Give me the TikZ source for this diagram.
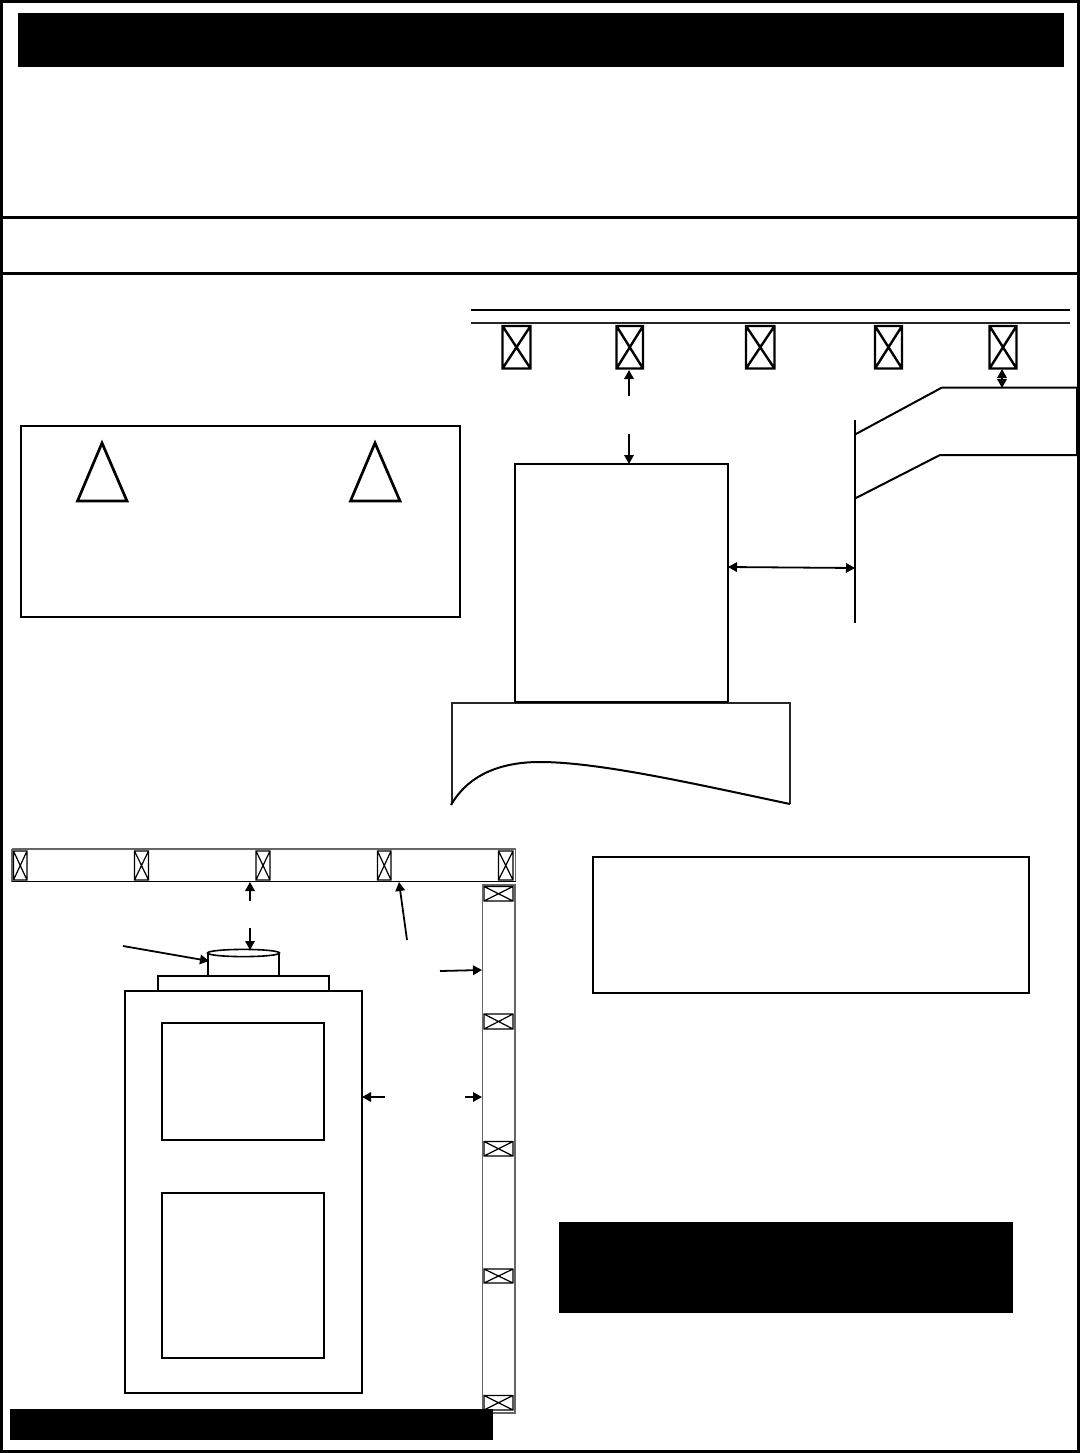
\documentclass[tikz,border=0pt]{standalone}
\usetikzlibrary{arrows.meta}
\tikzset{
  x=1pt,y=-1pt,
  line/.style={draw=black,line width=2pt},
  thick frame/.style={draw=black,line width=3.2pt},
  solidbar/.style={fill=black,draw=none},
  dim/.style={draw=black,line width=1.8pt,-{Triangle[length=9pt,width=9.5pt]}},
  dimboth/.style={draw=black,line width=1.8pt,{Triangle[length=9pt,width=9.5pt]}-{Triangle[length=9pt,width=9.5pt]}},
  joist/.style={draw=black,line width=2.4pt},
  joistthin/.style={draw=black,line width=1.2pt},
  warn/.style={draw=black,line width=2.7pt,line join=miter},
}
\newcommand{\xbox}[5]{% style, x1,y1,x2,y2
  \draw[#1] (#2,#3) rectangle (#4,#5) (#2,#3) -- (#4,#5) (#4,#3) -- (#2,#5);}
\begin{document}
\begin{tikzpicture}
\useasboundingbox (0,0) rectangle (1080,1453);
\fill[white] (0,0) rectangle (1080,1453);
% frame
\draw[thick frame] (1.5,1.5) rectangle (1078.4,1451.5);
\draw[thick frame] (0,217.5) -- (1080,217.5);
\draw[thick frame] (0,273.5) -- (1080,273.5);
\fill[solidbar] (18,13) rectangle (1064,67);
% upper joists
\draw[line] (471,309.5) -- (1070,309.5);
\draw[draw=black!85,line width=2pt] (471,322.5) -- (1070,322.5);
\xbox{joist}{502.5}{326}{530.5}{368.5}
\xbox{joist}{616.5}{326}{643}{368.5}
\xbox{joist}{746}{326}{774.5}{368.5}
\xbox{joist}{875}{326}{902}{368.5}
\xbox{joist}{989.5}{326}{1016.5}{368.5}
% warning box
\draw[line] (21,426) rectangle (460,617);
\draw[warn] (102,443) -- (77.5,501) -- (127,501) -- cycle;
\draw[warn] (375,443) -- (350.5,501) -- (400,501) -- cycle;
% front view
\draw[line] (515,464) rectangle (728,701.5);
\draw[draw=black!85,line width=2pt] (451.5,804) -- (451.5,702.5) -- (790,702.5) -- (790,804);
\draw[line] (515,701.5) -- (728,701.5);
\draw[line] (451,805) .. controls (470,772) and (505,762) .. (540,762)
  .. controls (600,762) and (700,785) .. (790,804);
% duct
\draw[line] (855,420) -- (855,622.5);
\draw[line] (855,434.5) -- (942,387.5) -- (1077,387.5);
\draw[line] (855,498.5) -- (940,455) -- (1077,455);
\draw[line] (1076.5,387.5) -- (1076.5,455);
% front view dimensions
\coordinate (a1) at (629,396); \coordinate (a2) at (629,370);
\coordinate (b1) at (629,434); \coordinate (b2) at (629,464);
\coordinate (c1) at (1002,369); \coordinate (c2) at (1002,388);
\coordinate (d1) at (728,567); \coordinate (d2) at (855,568);
\draw[dim] (a1) -- (a2);
\draw[dim] (b1) -- (b2);
\draw[dimboth] (c1) -- (c2);
\draw[dimboth] (d1) -- (d2);
% side ceiling joists
\draw[draw=black!60,line width=1.2pt] (12,849) -- (515.5,849) (12,849) -- (12,881.5) (515.5,849) -- (515.5,881.5);
\draw[draw=black,line width=1.6pt] (12,881.5) -- (515.5,881.5);
\xbox{joistthin}{13.5}{851}{27}{880}
\xbox{joistthin}{134.5}{851}{148.5}{880}
\xbox{joistthin}{256}{851}{270}{880}
\xbox{joistthin}{377.5}{851}{391}{880}
\xbox{joistthin}{498.5}{851}{513}{880}
% right wall studs
\draw[draw=black!60,line width=1.5pt] (482.5,885) rectangle (515,1413);
\xbox{joistthin}{484}{886.5}{513}{901}
\xbox{joistthin}{484}{1014}{513}{1029}
\xbox{joistthin}{484}{1141.5}{513}{1156}
\xbox{joistthin}{484}{1269}{513}{1283}
\xbox{joistthin}{484}{1395.5}{513}{1410}
% furnace plan
\draw[line] (125,991) rectangle (362,1393);
\draw[line] (162,1023) rectangle (324,1140);
\draw[line] (162,1193) rectangle (324,1358);
\draw[line] (158,976) rectangle (329,991);
\draw[line] (208,953) -- (208,976) (279,953) -- (279,976);
\draw[draw=black,line width=1.6pt,fill=white] (243.5,953) ellipse (36 and 3.6);
% furnace dimensions
\coordinate (e1) at (250,901); \coordinate (e2) at (250,882);
\coordinate (f1) at (250,928); \coordinate (f2) at (250,950);
\coordinate (g1) at (123,946); \coordinate (g2) at (209,961);
\coordinate (h1) at (407,940); \coordinate (h2) at (399,882);
\coordinate (i1) at (440,971); \coordinate (i2) at (482,970);
\coordinate (j1) at (385,1097); \coordinate (j2) at (362,1097);
\coordinate (k1) at (465,1097); \coordinate (k2) at (482,1097);
\draw[dim] (e1) -- (e2);
\draw[dim] (f1) -- (f2);
\draw[dim] (g1) -- (g2);
\draw[dim] (h1) -- (h2);
\draw[dim] (i1) -- (i2);
\draw[dim] (j1) -- (j2);
\draw[dim] (k1) -- (k2);
% note boxes
\draw[line] (593,857) rectangle (1029,993);
\fill[solidbar] (559,1222) rectangle (1013,1313);
\fill[solidbar] (10,1409) rectangle (493,1440);
\end{tikzpicture}
\end{document}
